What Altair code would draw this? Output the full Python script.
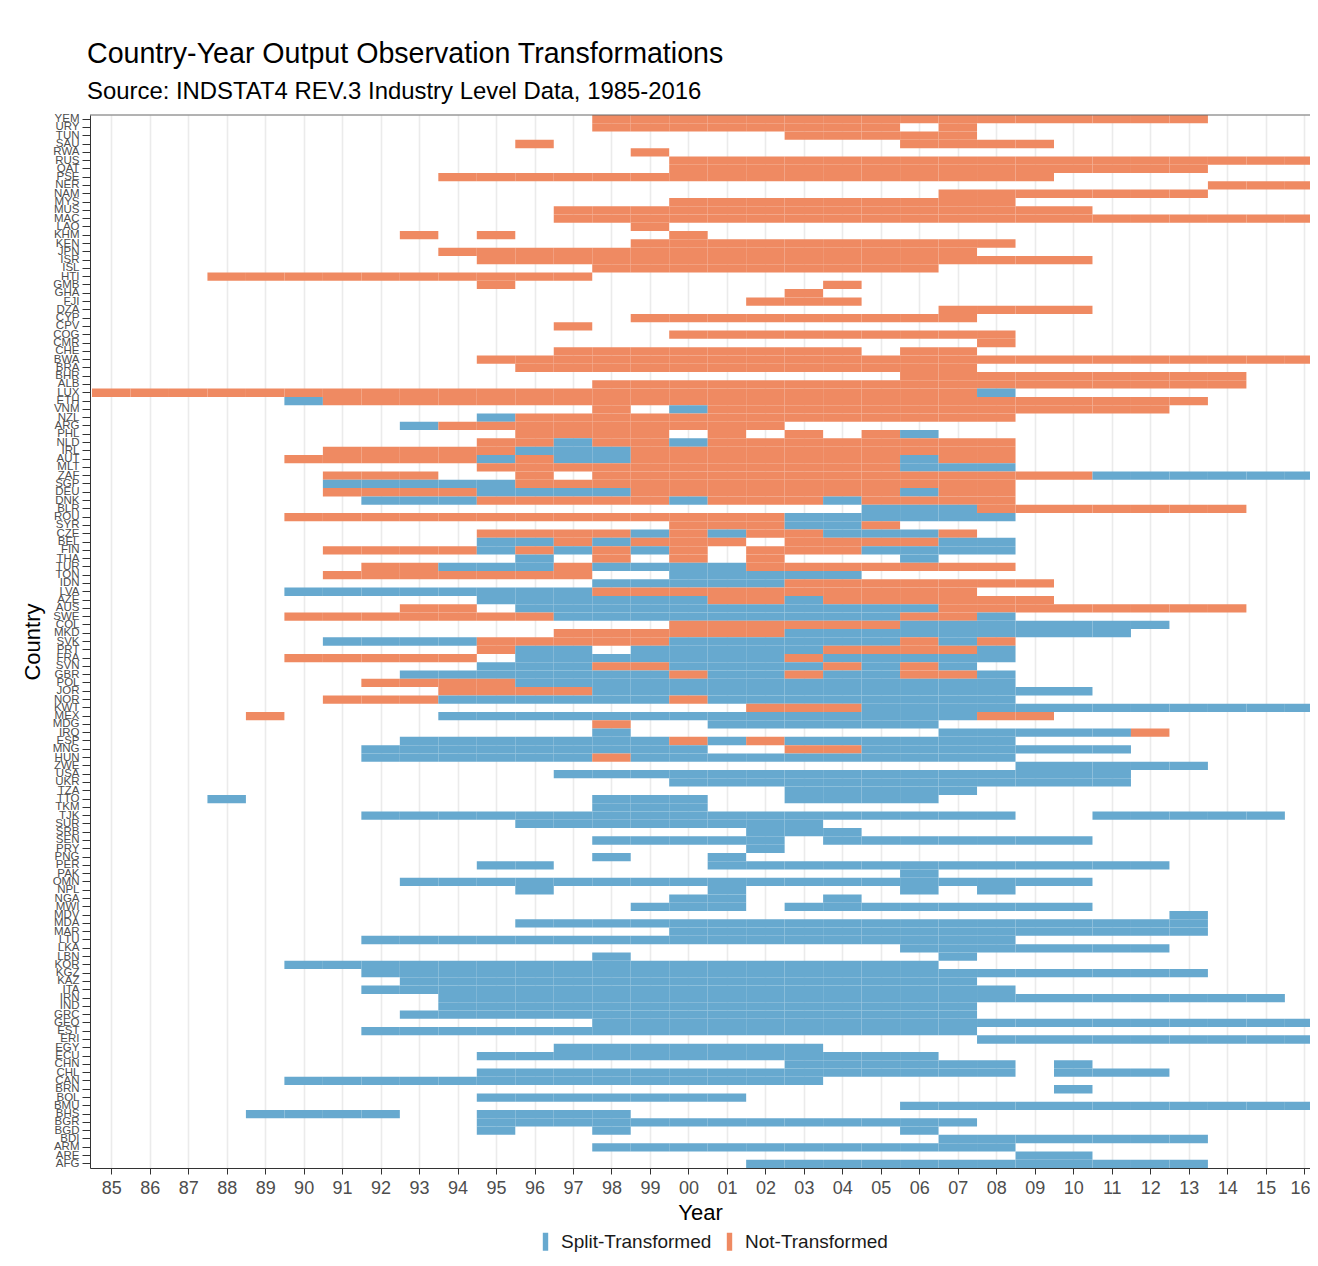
import altair as alt
import pandas as pd

countries = [
    "YEM", "URY", "TUN", "SAU", "RWA", "RUS", "QAT", "PSE", "NER", "NAM", "MYS", "MUS", "MAC",
    "LAO", "KHM", "KEN", "JPN", "ISR", "ISL", "HTI", "GMB", "GHA", "FJI", "DZA", "CYP", "CPV",
    "COG", "CMR", "CHE", "BWA", "BRA", "BHR", "ALB",
    "LUX", "ETH", "VNM", "NZL", "ARG", "PHL", "NLD", "IRL", "AUT", "MLT", "ZAF", "SGP", "DEU",
    "DNK", "BLR", "ROU", "SYR", "CZE", "BEL", "FIN", "THA", "TUR", "TON", "IDN", "LVA", "AZE",
    "AUS", "SWE", "COL", "MKD", "SVK", "PRT", "FRA", "SVN", "GBR", "POL", "JOR", "NOR", "KWT",
    "MEX", "MDG", "IRQ", "ESP", "MNG", "HUN",
    "ZWE", "USA", "UKR", "TZA", "TTO", "TKM", "TJK", "SUR", "SRB", "SEN", "PRY", "PNG", "PER",
    "PAK", "OMN", "NPL", "NGA", "MWI", "MDV", "MDA", "MAR", "LTU", "LKA", "LBN", "KOR", "KGZ",
    "KAZ", "ITA", "IRN", "IND", "GRC", "GEO", "EST", "ERI", "EGY", "ECU", "CHN", "CHL", "CAN",
    "BRN", "BOL", "BMU", "BHS", "BGR", "BGD", "BDI", "ARM", "ARE", "AFG",
]

# O = Not-Transformed, B = Split-Transformed; yy or yy-yy year runs (two-digit years)
runs = [
    "O98-13", "O98-05 O07", "O03-07", "O96 O06-09", "O99", "O00-16", "O00-13", "O94-09",
    "O14-16", "O07-13", "O00-08", "O97-10", "O97-16",
    "O99", "O93 O95 O00", "O99-08", "O94-07", "O95-10", "O98-06", "O88-97", "O95 O04", "O03",
    "O02-04", "O07-10", "O99-07", "O97",
    "O00-08", "O08", "O97-04 O06-07", "O95-16", "O96-07", "O06-14", "O98-14",
    "O85-07 B08", "B90 O91-13", "O98 B00 O01-12", "B95 O96-08", "B93 O94-02",
    "O96-99 O01 O03 O05 B06", "O95-96 B97 O98-99 B00 O01-08", "O91-95 B96-98 O99-08",
    "O90-94 B95 O96 B97-98 O99-05 B06 O07-08", "O95-05 B06-08", "O91-93 O96 O98-10 B11-16",
    "B91-95 O96-08", "O91-94 B95-98 O99-05 B06 O07-08",
    "B92-94 O95-99 B00 O01-03 B04 O05-08", "B05-07 O08-14", "O90-02 B03-08", "O00-02 B03-04 O05",
    "O95-98 B99 O00 B01 O02-03 B04-06 O07", "B95-96 O97 B98 O99-01 O03-06 B07-08",
    "O91-94 B95 O96 B97 O98 B99 O00 O02-04 B05-08", "B96 O98 O00 O02 B06",
    "O92-93 B94-96 O97 B98-01 O02-08", "O91-97 B00-04", "B98-02 O03-09", "B90-97 O98-07",
    "B95-00 O01-02 B03 O04-09",
    "O93-94 B96-06 O07-14", "O90-96 B97-05 O06-07 B08", "O00-05 B06-12", "O97-02 B03-11",
    "B91-94 O95-99 B00-05 O06 B07 O08", "O95 B96-97 B99-03 O04-07 B08",
    "O90-94 B96-02 O03 B04-08", "B95-97 O98-99 B00-03 O04 B05 O06 B07",
    "B93-99 O00 B01-02 O03 B04-05 O06-07 B08", "O92-95 B96-08", "O94-97 B98-10",
    "O91-93 B94-99 O00 B01-08", "O02-04 B05-16",
    "O89 B94-07 O08-09", "O98 B01-06", "B98 B07-11 O12", "B93-99 O00 B01 O02 B03-08",
    "B92-00 O03-04 B05-11", "B92-97 O98 B99-08",
    "B09-13", "B97-11", "B00-11", "B03-07", "B88 B98-00 B03-06", "B98-00", "B92-08 B11-15",
    "B96-03", "B02-04", "B98-02 B04-10", "B02", "B98 B01", "B95-96 B01-12",
    "B06", "B93-10", "B96 B01 B06 B08", "B00-01 B04", "B99-01 B03-10", "B13", "B96-13",
    "B00-13", "B92-08", "B06-12", "B98 B07", "B90-06", "B92-13",
    "B93-07", "B92-08", "B94-15", "B94-07", "B93-07", "B98-16", "B92-07", "B08-16", "B97-03",
    "B95-06", "B03-08 B10", "B95-08 B10-12", "B90-03",
    "B10", "B95-01", "B06-16", "B89-92 B95-98", "B95-07", "B95 B98 B06", "B07-13", "B98-08",
    "B09-10", "B02-13",
]

status_names = {"B": "Split-Transformed", "O": "Not-Transformed"}
legend_order = ["Split-Transformed", "Not-Transformed"]
legend_colors = ["#67a9cf", "#ef8a62"]
years = list(range(1985, 2017))


def full_year(yy):
    return 1900 + yy if yy >= 50 else 2000 + yy


records = []
for c, r in zip(countries, runs):
    for tok in r.split():
        code, span = tok[0], tok[1:]
        a, b = (span.split("-") if "-" in span else (span, span))
        for y in range(full_year(int(a)), full_year(int(b)) + 1):
            records.append({"country": c, "year": y, "status": status_names[code]})
df = pd.DataFrame(records)

W, H = 1220, 1053
px_per_year = 38.48
x_min = 1984.5 - 2.0 / px_per_year
x_max = x_min + W / px_per_year
FONT = "Liberation Sans"

tiles = (
    alt.Chart(df)
    .transform_calculate(x0="datum.year - 0.5", x1="datum.year + 0.5")
    .mark_rect(clip=True, opacity=1)
    .encode(
        x=alt.X(
            "x0:Q",
            scale=alt.Scale(domain=[x_min, x_max], nice=False, zero=False),
            axis=alt.Axis(
                values=years,
                labelExpr="slice('0' + (datum.value % 100), -2)",
                title="Year",
                titleFontSize=22,
                titleFontWeight="normal",
                titleColor="black",
                titlePadding=5,
                labelFontSize=18,
                labelColor="#4d4d4d",
                labelPadding=5,
                labelOffset={"condition": {"test": "datum.value == 2016", "value": -4}, "value": 0},
                tickSize=6,
                tickColor="#333333",
                domainColor="#333333",
                gridColor="#ebebeb",
                gridWidth=1.6,
                labelOverlap=False,
                labelFlush=False,
            ),
        ),
        x2="x1:Q",
        y=alt.Y(
            "country:N",
            sort=countries,
            scale=alt.Scale(paddingInner=0, paddingOuter=0),
            axis=alt.Axis(
                title="Country",
                titleFontSize=22,
                titleFontWeight="normal",
                titleColor="black",
                titlePadding=8,
                labelFontSize=11.5,
                labelColor="#4d4d4d",
                labelPadding=3,
                tickSize=8,
                tickColor="#333333",
                domainColor="#333333",
                gridColor="#ebebeb",
                gridWidth=1.1,
                bandPosition=0.5,
                labelOverlap=False,
            ),
        ),
        color=alt.Color(
            "status:N",
            scale=alt.Scale(domain=legend_order, range=legend_colors),
            legend=alt.Legend(
                title=None,
                orient="none",
                direction="horizontal",
                legendX=446,
                legendY=1117,
                symbolType="M-0.3,-1H0.3V1H-0.3Z",
                symbolSize=324,
                symbolStrokeWidth=0,
                symbolOpacity=1,
                labelFontSize=19,
                labelColor="#1a1a1a",
                labelOffset=6,
                columnPadding=8,
            ),
        ),
    )
)

top_line = (
    alt.Chart(pd.DataFrame({"edge": ["top"]}))
    .mark_rule(color="#666666", strokeWidth=1)
    .encode(y=alt.value(0), x=alt.value(0), x2=alt.value(W))
)

chart = (
    alt.layer(tiles, top_line)
    .properties(
        width=W,
        height=H,
        autosize=alt.AutoSizeParams(type="none"),
        padding={"left": 82, "top": 107, "right": 0, "bottom": 86},
        title=alt.TitleParams(
            text="Country-Year Output Observation Transformations",
            subtitle="Source: INDSTAT4 REV.3 Industry Level Data, 1985-2016",
            anchor="start",
            frame="group",
            fontSize=28.6,
            subtitleFontSize=23.9,
            fontWeight="normal",
            color="black",
            subtitleColor="black",
            subtitlePadding=11,
            offset=9,
            dx=-3,
        ),
    )
    .configure(font=FONT)
    .configure_view(stroke=None)
)

chart.save("out.html", embed_options={"renderer": "svg", "actions": False})
